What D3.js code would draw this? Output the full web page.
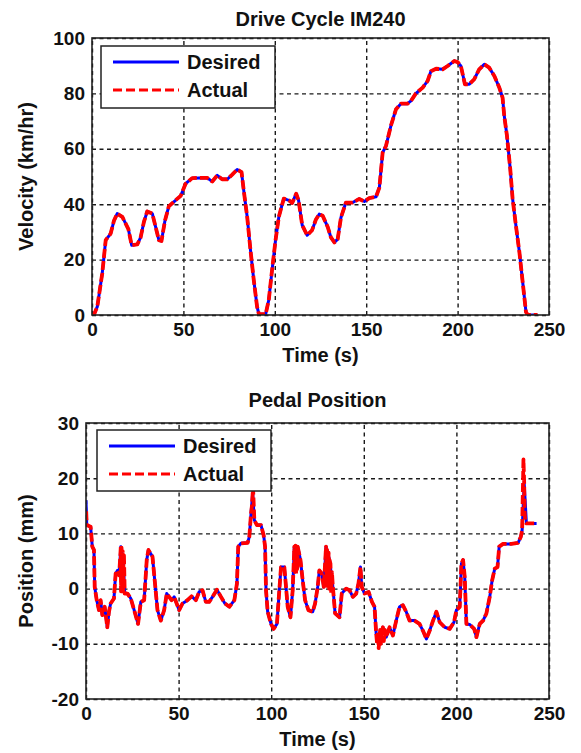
<!DOCTYPE html>
<html>
<head>
<meta charset="utf-8">
<script src="https://cdn.jsdelivr.net/npm/d3@7"></script>
<style>
  body { margin: 0; background: #fff; }
  text { font-family: "Liberation Sans", Arial, sans-serif; font-weight: bold; fill: #111; }
</style>
</head>
<body>
<div id="chart"></div>
<script>
// velocity (km/hr) vs time (s)
var velTime = [0,1,2.9,5.6,7.5,10.2,12,13.8,16.6,19.9,
  21.7,24.8,26.6,28.4,30.2,33,34.8,36.6,38,39.9,
  42,45.7,48.5,51.2,54.8,58.5,63,65.8,68.5,71.2,
  74,76.7,79.4,81.8,83,84.9,86.7,88.5,90.3,91.3,
  95,96.7,98.5,100.4,102.2,104.9,107.7,109.5,111.7,113,
  115,117.7,120.4,122.5,124.3,126.2,129,130.7,132.6,134.4,
  136.2,138.9,142.6,146.2,149,151.7,155.4,157.2,159,160.8,
  163.5,166.3,169,172.6,174.5,177.2,180.9,183.6,185.4,188.2,
  191.8,194.5,198.2,200,201.8,204,206.4,209.1,211.8,214.6,
  217.3,220.1,222.8,224.6,225.5,227,228.8,230.1,231.9,233.8,
  235.6,237.4,238.3,243.7];
var velDesired = [0,0,3,15,27,29.4,34,36.6,35.4,31,
  25.2,25.5,28,33.6,37.4,36.6,31.8,27,26.7,34,
  39.2,41.4,43,47.4,49.4,49.5,49.5,48.2,50.4,49,
  49,50.7,52.5,51.6,45,35.4,23.4,12.6,3,0.3,
  0.3,5.4,16.2,27,35.4,42,41.4,40.4,43.8,41.4,
  32.4,28.8,30.6,34.5,36.4,35.8,31.7,28,26.2,27.4,
  35.2,40.6,40.6,41.9,41,42.2,42.7,46,58.6,61,
  68.3,74.3,76.3,76.3,77.3,80,82.1,84.5,88,88.9,
  88.7,89.9,91.7,91.3,89.9,83.3,83.3,85.1,88.7,90.5,
  89.3,86.3,82.1,78.5,72,64.7,52.7,41.9,32.3,22.7,
  11.9,1.1,0,0];
var velActual = velDesired; // overlaps the desired trace everywhere

// pedal position (mm)
var pedTime = [0,0.4,2.5,3.4,4.3,4.7,5.8,7,7.9,8.8,
  10.1,11.5,12.4,13.3,15.1,16,17,17.9,18.8,20.2,
  20.9,22.4,24.2,26,28.1,29.6,31.4,32.8,33.7,35.9,
  37.1,38.6,40.4,42.2,43.6,44.9,46.2,47.6,50.3,52.1,
  54.8,57,59.3,61.1,62.9,64.7,66.5,68.3,70.7,72.9,
  75,77.4,80.1,81.5,82.2,83.7,87.3,88.2,89.1,90,
  90.9,92.3,94.5,95.9,96.7,97.2,98.1,99.9,101.3,103.1,
  104,105.3,107.1,108,108.9,110.4,111.6,112.5,114.3,115.8,
  117,118.3,120.1,122.4,123.7,125.1,126,127.3,128.4,129.6,
  131.5,133.3,134.5,136.9,138.1,140.5,142.3,144.1,145.9,147.1,
  148.2,148.9,150.4,152.6,154.4,155.8,156.7,158.5,160.3,162.1,
  163.9,165.7,167.5,169.3,171.1,172.9,174.7,177.4,180.1,181.9,
  183.8,185.6,187.4,189.2,191,193.7,196.4,198.7,200,201.8,
  202.7,203.6,204.5,205.4,207.2,209.6,210.8,212.6,214.4,216.2,
  218,219.3,220.7,222.2,223.1,225.2,229.7,233.3,234.8,235.5,
  236.6,237.8,243.3];
var pedDesired = [16,11.5,11.2,7.6,7,0.3,-2.1,-3.9,-2.1,-4.8,
  -3.3,-7,-4.2,-2.7,-1.8,2.7,3.3,2.4,7.6,4.5,
  -0.9,-0.9,-1.8,-3.9,-6.4,-2.4,-2.1,5.2,7,5.8,
  1.5,-3.9,-5.8,-3.9,-0.9,-1.5,-2.1,-1.5,-3.9,-2.7,
  -2.1,-1.4,-2.1,-0.6,-0.3,-2.4,-2.4,-1.5,-0.2,-1.5,
  -2.7,-3.3,-2.1,0.9,7.6,8.2,8.3,9.4,13.6,17.3,
  12.4,11.5,11.5,9.7,7.6,-0.3,-4.2,-6.4,-7.3,-6.4,
  -2.1,3.9,3.9,0.3,-3.3,-5.2,-0.3,7.6,7.6,5.2,
  1.5,-2.1,-3.9,-4.2,-2.7,0.3,3.3,2.7,0.3,7.6,
  5.2,0.3,-4.5,-5.2,-0.9,0,-0.3,-1.5,-0.9,0.9,
  3.9,0.3,-0.9,-0.6,-2.4,-3.3,-8.2,-9.1,-7,-8.8,
  -7,-8.5,-5.8,-3.3,-3,-4.2,-5.8,-5.8,-6.4,-7.6,
  -9.1,-7.6,-5.8,-4.2,-6.1,-7,-7.3,-6.1,-3.9,-3.3,
  4.5,5.2,2.1,-6.4,-6.5,-7.3,-8.8,-6.4,-5.8,-4.5,
  -1.5,1.5,3.6,3.9,7.6,8.1,8.1,8.3,9.4,10.6,
  19.1,11.8,11.8];
// extra chatter in the actual pedal trace (thick red bands)
var pedBurstTime = [0.1,18.9,19.2,19.5,19.8,20.1,20.5,
  89.6,90.2,112.8,113.1,113.4,113.7,114,129.9,130.2,130.6,131,131.3,
  132,132.4,132.8,157.2,157.6,158,158.8,159.2,159.7,160.8,161.4,236.2,236.8,237.2];
var pedBurstVal = [14,-0.5,7.4,0,6.8,-0.5,6,
  15,18.3,3,7.8,2.5,7.6,3.5,0.5,7,1,6.5,0,
  4.5,-1,3,-10,-8,-10.8,-7.5,-10,-8,-9.5,-7.5,23.4,14,12];

var velTicksX = [0,50,100,150,200,250];
var velTicksY = [0,20,40,60,80,100];
var pedTicksY = [-20,-10,0,10,20,30];
var legendNames = ["Desired","Actual"];

var W = 581, H = 753;
var svg = d3.select("#chart").append("svg")
  .attr("width", W).attr("height", H);
svg.append("rect").attr("width", W).attr("height", H).attr("fill", "#fff");

function panel(opt) {
  var g = svg.append("g");
  var x = d3.scaleLinear().domain([0, 250]).range([opt.left, opt.right]);
  var y = d3.scaleLinear().domain(opt.yDomain).range([opt.bottom, opt.top]);
  var iw = opt.right - opt.left, ih = opt.bottom - opt.top;

  // grid + ticks (plain hyphen for negatives, like the original)
  var gx = g.append("g").attr("transform", "translate(0," + opt.bottom + ")")
    .call(d3.axisBottom(x).tickValues(velTicksX).tickSize(-ih).tickPadding(8).tickFormat(String));
  var gy = g.append("g").attr("transform", "translate(" + opt.left + ",0)")
    .call(d3.axisLeft(y).tickValues(opt.yTicks).tickSize(-iw).tickPadding(7).tickFormat(String));
  [gx, gy].forEach(function(a) {
    a.select(".domain").remove();
    a.selectAll("line").attr("stroke", "#1a1a1a").attr("stroke-width", 1.4)
      .attr("stroke-dasharray", "4,3.5");
    a.selectAll("text").attr("font-size", "19px")
      .style("font-family", "'Liberation Sans', Arial, sans-serif").style("font-weight", "bold")
      .attr("fill", "#111");
  });

  var line = d3.line().x(function(d) { return x(d[0]); }).y(function(d) { return y(d[1]); });
  var clip = "clip" + opt.id;
  svg.append("clipPath").attr("id", clip).append("rect")
    .attr("x", opt.left).attr("y", opt.top - 2).attr("width", iw).attr("height", ih + 2);
  var lg = g.append("g").attr("clip-path", "url(#" + clip + ")");
  lg.append("path").datum(opt.desired).attr("d", line)
    .attr("fill", "none").attr("stroke", "#0000ff").attr("stroke-width", 3)
    .attr("stroke-linejoin", "round");
  lg.append("path").datum(opt.actual).attr("d", line)
    .attr("fill", "none").attr("stroke", "#ff0000").attr("stroke-width", 3.8)
    .attr("stroke-dasharray", "9,3").attr("stroke-linejoin", "round");

  // box
  g.append("rect").attr("x", opt.left).attr("y", opt.top).attr("width", iw).attr("height", ih)
    .attr("fill", "none").attr("stroke", "#222").attr("stroke-width", 1.6);

  g.append("text").attr("x", (opt.left + opt.right) / 2).attr("y", opt.titleY)
    .attr("text-anchor", "middle").attr("font-size", "20px").text(opt.title);
  g.append("text").attr("x", (opt.left + opt.right) / 2).attr("y", opt.xLabelY)
    .attr("text-anchor", "middle").attr("font-size", "20px").text("Time (s)");
  g.append("text").attr("transform", "translate(33," + (opt.top + opt.bottom) / 2 + ") rotate(-90)")
    .attr("text-anchor", "middle").attr("font-size", "20px").text(opt.yLabel);

  // legend
  var L = opt.legend;
  g.append("rect").attr("x", L.x).attr("y", L.y).attr("width", L.w).attr("height", L.h)
    .attr("fill", "#fff").attr("stroke", "#222").attr("stroke-width", 1.5);
  legendNames.forEach(function(name, i) {
    var ly = L.y + 16 + i * 28;
    g.append("line").attr("x1", L.x + 12).attr("x2", L.x + 78).attr("y1", ly).attr("y2", ly)
      .attr("stroke", i === 0 ? "#0000ff" : "#ff0000").attr("stroke-width", 3)
      .attr("stroke-dasharray", i === 0 ? null : "9,4");
    g.append("text").attr("x", L.x + 86).attr("y", ly + 7).attr("font-size", "20px").text(name);
  });
}

panel({
  id: "v", left: 92, right: 549, top: 38, bottom: 315,
  yDomain: [0, 100], yTicks: velTicksY,
  desired: d3.zip(velTime, velDesired), actual: d3.zip(velTime, velActual),
  title: "Drive Cycle IM240", titleY: 26, xLabelY: 362, yLabel: "Velocity (km/hr)",
  legend: {x: 101, y: 46, w: 174, h: 62}
});

var pedActualPts = d3.sort(d3.zip(pedTime, pedDesired).concat(d3.zip(pedBurstTime, pedBurstVal)),
  function(d) { return d[0]; });
pedActualPts.shift(); // actual starts at 14 rather than 16

panel({
  id: "p", left: 86, right: 549, top: 423, bottom: 699,
  yDomain: [-20, 30], yTicks: pedTicksY,
  desired: d3.zip(pedTime, pedDesired), actual: pedActualPts,
  title: "Pedal Position", titleY: 407, xLabelY: 746, yLabel: "Position (mm)",
  legend: {x: 97, y: 430, w: 174, h: 61}
});
</script>
</body>
</html>
